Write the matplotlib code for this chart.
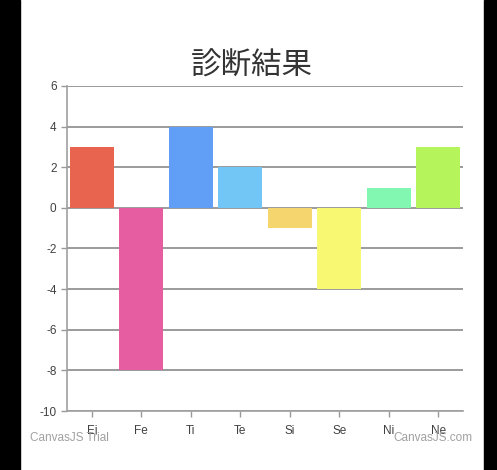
import matplotlib
matplotlib.use("Agg")
import matplotlib.pyplot as plt
from matplotlib.patches import Rectangle

# data
labels = ["Ei", "Fe", "Ti", "Te", "Si", "Se", "Ni", "Ne"]
values = [3, -8, 4, 2, -1, -4, 1, 3]
colors = ["#E8644F", "#E65DA2", "#619EF6", "#72C6F5",
          "#F5D66E", "#F9F873", "#82F7B2", "#B6F45C"]
yticks = list(range(-10, 7, 2))

plt.rcParams["font.family"] = ["Liberation Sans", "DejaVu Sans", "Noto Sans CJK JP"]
plt.rcParams["axes.unicode_minus"] = False

fig = plt.figure(figsize=(4.97, 4.70), dpi=100)
ax = fig.add_axes([67 / 497, 1 - 411 / 470, 396 / 497, 325 / 470])

ax.bar(range(len(labels)), values, width=0.89, color=colors, zorder=3)

ax.set_xlim(-0.5, len(labels) - 0.5)
ax.set_ylim(-10, 6)
ax.set_yticks(yticks)
ax.set_xticks(range(len(labels)))
ax.set_xticklabels(labels)
ax.yaxis.grid(True, color="#808080", linewidth=1.1, zorder=1)
ax.tick_params(axis="both", colors="#999999", labelcolor="#404040",
               labelsize=8.5, length=4, width=1)
ax.tick_params(axis="x", pad=6)
for s in ["top", "right"]:
    ax.spines[s].set_visible(False)
for s in ["left", "bottom"]:
    ax.spines[s].set_color("#a0a0a0")
    ax.spines[s].set_linewidth(1.2)

fig.text(252 / 497, 1 - 66 / 470, "診断結果", ha="center", va="center",
         fontsize=22, color="#333333",
         family=["Noto Sans CJK JP", "DejaVu Sans"])

# watermarks
fig.text(30 / 497, 1 - 438 / 470, "CanvasJS Trial", ha="left", va="center",
         fontsize=8.5, color="#a0a0a0")
fig.text(472 / 497, 1 - 438 / 470, "CanvasJS.com", ha="right", va="center",
         fontsize=8.5, color="#a0a0a0")

# black side borders
fig.add_artist(Rectangle((0, 0), 20 / 497, 1, transform=fig.transFigure,
                         color="black", zorder=10))
fig.add_artist(Rectangle((484 / 497, 0), 13 / 497, 1, transform=fig.transFigure,
                         color="black", zorder=10))

fig.savefig("out.png", dpi=100)
